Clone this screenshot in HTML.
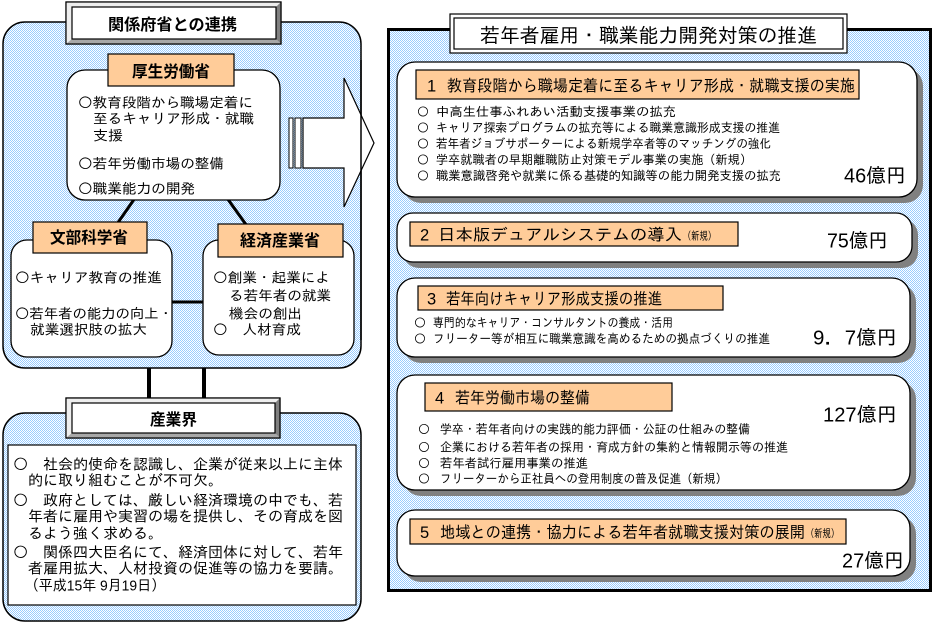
<!DOCTYPE html>
<html><head><meta charset="utf-8">
<style>
html,body{margin:0;padding:0;background:#fff;}
svg{display:block;}
.r{font-family:"Liberation Sans","IPAGothic","Noto Sans CJK JP",sans-serif;fill:#000;}
.b{font-family:"Liberation Sans","Noto Sans CJK JP",sans-serif;font-weight:bold;fill:#000;}
.c{font-family:"IPAGothic","Noto Sans CJK JP",sans-serif;}
</style></head>
<body>
<svg width="936" height="625" viewBox="0 0 936 625" xmlns="http://www.w3.org/2000/svg">
<defs>
<pattern id="bl" patternUnits="userSpaceOnUse" width="2" height="2">
<rect width="2" height="2" fill="#fff"/>
<rect x="0" y="0" width="1" height="1" fill="#99CCFF"/>
<rect x="1" y="1" width="1" height="1" fill="#99CCFF"/>
</pattern>
</defs>

<!-- ===== LEFT TOP PANEL ===== -->
<rect x="3" y="22" width="358" height="346" rx="22" fill="url(#bl)" stroke="#000" stroke-width="1.5"/>

<!-- connector lines -->
<line x1="135" y1="198" x2="117" y2="224" stroke="#000" stroke-width="3"/>
<line x1="227" y1="198" x2="247" y2="226" stroke="#000" stroke-width="3"/>
<line x1="171" y1="302" x2="204" y2="302" stroke="#000" stroke-width="3"/>

<!-- 厚生労働省 box -->
<rect x="67" y="70" width="213" height="130" rx="18" fill="#fff" stroke="#000" stroke-width="1.3"/>
<rect x="108" y="54" width="126" height="32" fill="#FFCC99" stroke="#000" stroke-width="1.2"/>
<text class="b" x="132" y="77" font-size="16" textLength="78" lengthAdjust="spacingAndGlyphs">厚生労働省</text>
<text class="r" x="78" y="107.3" font-size="14" textLength="175" lengthAdjust="spacingAndGlyphs"><tspan class="c">○</tspan>教育段階から職場定着に</text>
<text class="r" x="93" y="123.3" font-size="14" textLength="161" lengthAdjust="spacingAndGlyphs">至るキャリア形成・就職</text>
<text class="r" x="93" y="140.3" font-size="14" textLength="30" lengthAdjust="spacingAndGlyphs">支援</text>
<text class="r" x="78" y="168.3" font-size="14" textLength="146" lengthAdjust="spacingAndGlyphs"><tspan class="c">○</tspan>若年労働市場の整備</text>
<text class="r" x="78" y="193.3" font-size="14" textLength="117" lengthAdjust="spacingAndGlyphs"><tspan class="c">○</tspan>職業能力の開発</text>

<!-- 文部科学省 box -->
<rect x="11" y="240" width="161" height="117" rx="16" fill="#fff" stroke="#000" stroke-width="1.3"/>
<rect x="33" y="222" width="114" height="31" fill="#FFCC99" stroke="#000" stroke-width="1.2"/>
<text class="b" x="50" y="243" font-size="16" textLength="78" lengthAdjust="spacingAndGlyphs">文部科学省</text>
<text class="r" x="15" y="282.3" font-size="14" textLength="147" lengthAdjust="spacingAndGlyphs"><tspan class="c">○</tspan>キャリア教育の推進</text>
<text class="r" x="15" y="318.3" font-size="14" textLength="158" lengthAdjust="spacingAndGlyphs"><tspan class="c">○</tspan>若年者の能力の向上・</text>
<text class="r" x="30" y="334.3" font-size="14" textLength="117" lengthAdjust="spacingAndGlyphs">就業選択肢の拡大</text>

<!-- 経済産業省 box -->
<rect x="203" y="240" width="151" height="115" rx="16" fill="#fff" stroke="#000" stroke-width="1.3"/>
<rect x="218" y="224" width="125" height="33" fill="#FFCC99" stroke="#000" stroke-width="1.2"/>
<text class="b" x="240" y="246" font-size="16" textLength="80" lengthAdjust="spacingAndGlyphs">経済産業省</text>
<text class="r" x="213" y="282.3" font-size="14" textLength="117" lengthAdjust="spacingAndGlyphs"><tspan class="c">○</tspan>創業・起業によ</text>
<text class="r" x="229" y="300.3" font-size="14" textLength="102" lengthAdjust="spacingAndGlyphs">る若年者の就業</text>
<text class="r" x="229" y="318.3" font-size="14" textLength="73" lengthAdjust="spacingAndGlyphs">機会の創出</text>
<text class="r" x="213" y="334.3" font-size="14" textLength="88" lengthAdjust="spacingAndGlyphs"><tspan class="c">○</tspan>　人材育成</text>

<!-- Arrow -->
<rect x="289" y="118" width="4" height="50" fill="#fff" stroke="#000" stroke-width="1"/>
<rect x="295" y="118" width="6" height="50" fill="#fff" stroke="#000" stroke-width="1"/>
<polygon points="303,118 344,118 344,78 374,143 344,207 344,168 303,168" fill="#fff" stroke="#000" stroke-width="1.2"/>
<line x1="361" y1="60" x2="361" y2="340" stroke="#000" stroke-width="1.5"/>

<!-- Title box left -->
<rect x="66" y="2" width="215" height="42" fill="#c8c8c8" stroke="#000" stroke-width="1.2"/>
<polygon points="66,2 281,2 276,7 72,7" fill="#eeeeee"/>
<polygon points="66,2 72,7 72,39 66,44" fill="#eeeeee"/>
<polygon points="281,2 281,44 276,39 276,7" fill="#808080"/>
<polygon points="66,44 281,44 276,39 72,39" fill="#a8a8a8"/>
<rect x="66" y="2" width="215" height="42" fill="none" stroke="#000" stroke-width="1.2"/>
<rect x="72" y="7" width="204" height="32" fill="#fff" stroke="#000" stroke-width="1.2"/>
<text class="b" x="108" y="30" font-size="16" textLength="129" lengthAdjust="spacingAndGlyphs">関係府省との連携</text>

<!-- vertical connectors -->
<rect x="147" y="368" width="4" height="32" fill="#000"/>
<rect x="202" y="368" width="4" height="32" fill="#000"/>

<!-- ===== LEFT BOTTOM PANEL ===== -->
<rect x="3" y="413" width="358" height="208" rx="22" fill="url(#bl)" stroke="#000" stroke-width="1.5"/>
<rect x="8" y="445" width="348" height="160" fill="#fff" stroke="#000" stroke-width="1.2"/>
<rect x="66" y="398" width="214" height="40" fill="#c8c8c8" stroke="#000" stroke-width="1.2"/>
<polygon points="66,398 280,398 275,403 72,403" fill="#eeeeee"/>
<polygon points="66,398 72,403 72,433 66,438" fill="#eeeeee"/>
<polygon points="280,398 280,438 275,433 275,403" fill="#808080"/>
<polygon points="66,438 280,438 275,433 72,433" fill="#a8a8a8"/>
<rect x="66" y="398" width="214" height="40" fill="none" stroke="#000" stroke-width="1.2"/>
<rect x="72" y="403" width="203" height="30" fill="#fff" stroke="#000" stroke-width="1.2"/>
<text class="b" x="150" y="425" font-size="16" textLength="47" lengthAdjust="spacingAndGlyphs">産業界</text>

<text class="r" x="13" y="469.7" font-size="15" textLength="330" lengthAdjust="spacingAndGlyphs"><tspan class="c">○</tspan>　社会的使命を認識し、企業が従来以上に主体</text>
<text class="r" x="28" y="485.7" font-size="15" textLength="195" lengthAdjust="spacingAndGlyphs">的に取り組むことが不可欠。</text>
<text class="r" x="13" y="505.7" font-size="15" textLength="330" lengthAdjust="spacingAndGlyphs"><tspan class="c">○</tspan>　政府としては、厳しい経済環境の中でも、若</text>
<text class="r" x="28" y="521.7" font-size="15" textLength="315" lengthAdjust="spacingAndGlyphs">年者に雇用や実習の場を提供し、その育成を図</text>
<text class="r" x="28" y="538.7" font-size="15" textLength="135" lengthAdjust="spacingAndGlyphs">るよう強く求める。</text>
<text class="r" x="13" y="557.7" font-size="15" textLength="330" lengthAdjust="spacingAndGlyphs"><tspan class="c">○</tspan>　関係四大臣名にて、経済団体に対して、若年</text>
<text class="r" x="28" y="573.7" font-size="15" textLength="315" lengthAdjust="spacingAndGlyphs">者雇用拡大、人材投資の促進等の協力を要請。</text>
<text class="r" x="25" y="590.7" font-size="15" textLength="140" lengthAdjust="spacingAndGlyphs">（平成15年 9月19日）</text>

<!-- ===== RIGHT PANEL ===== -->
<rect x="388.5" y="29.5" width="542" height="561" fill="url(#bl)" stroke="#000" stroke-width="3"/>

<!-- title -->
<rect x="450" y="14" width="397" height="39" fill="#fff" stroke="#000" stroke-width="1.2"/>
<rect x="454" y="18" width="389" height="31" fill="#fff" stroke="#000" stroke-width="1.2"/>
<text class="r" x="480" y="42.6" font-size="20" textLength="337" lengthAdjust="spacingAndGlyphs">若年者雇用・職業能力開発対策の推進</text>

<!-- section 1 -->
<rect x="403" y="68" width="520" height="135" rx="18" fill="#808080"/>
<rect x="397" y="62" width="520" height="135" rx="18" fill="#fff" stroke="#000" stroke-width="1.3"/>
<rect x="416" y="70" width="443" height="29" fill="#FFCC99" stroke="#000" stroke-width="1.2"/>
<text class="r" x="427" y="91.3" font-size="16.5">1</text>
<text class="r" x="447" y="91.3" font-size="16.5" textLength="408" lengthAdjust="spacingAndGlyphs">教育段階から職場定着に至るキャリア形成・就職支援の実施</text>
<text class="r c" x="417" y="115.8" font-size="12">○</text>
<text class="r" x="436" y="115.8" font-size="12.5" textLength="240" lengthAdjust="spacingAndGlyphs">中高生仕事ふれあい活動支援事業の拡充</text>
<text class="r c" x="417" y="131.8" font-size="12">○</text>
<text class="r" x="436" y="131.8" font-size="12.5" textLength="344" lengthAdjust="spacingAndGlyphs">キャリア探索プログラムの拡充等による職業意識形成支援の推進</text>
<text class="r c" x="417" y="147.8" font-size="12">○</text>
<text class="r" x="436" y="147.8" font-size="12.5" textLength="335" lengthAdjust="spacingAndGlyphs">若年者ジョブサポーターによる新規学卒者等のマッチングの強化</text>
<text class="r c" x="417" y="163.8" font-size="12">○</text>
<text class="r" x="436" y="163.8" font-size="12.5" textLength="316" lengthAdjust="spacingAndGlyphs">学卒就職者の早期離職防止対策モデル事業の実施（新規）</text>
<text class="r c" x="417" y="179.8" font-size="12">○</text>
<text class="r" x="436" y="179.8" font-size="12.5" textLength="345" lengthAdjust="spacingAndGlyphs">職業意識啓発や就業に係る基礎的知識等の能力開発支援の拡充</text>
<text class="r" x="844" y="182.6" font-size="20" textLength="62" lengthAdjust="spacingAndGlyphs">46億円</text>

<!-- section 2 -->
<rect x="403" y="219" width="515" height="49" rx="16" fill="#808080"/>
<rect x="397" y="213" width="515" height="49" rx="16" fill="#fff" stroke="#000" stroke-width="1.3"/>
<rect x="410" y="222" width="328" height="24" fill="#FFCC99" stroke="#000" stroke-width="1.2"/>
<text class="r" x="420" y="240.3" font-size="16.5">2</text>
<text class="r" x="438" y="240.3" font-size="16.5" textLength="244" lengthAdjust="spacingAndGlyphs">日本版デュアルシステムの導入</text>
<text class="r" x="683" y="239.5" font-size="11" textLength="33" lengthAdjust="spacingAndGlyphs">（新規）</text>
<text class="r" x="827" y="247.6" font-size="20" textLength="61" lengthAdjust="spacingAndGlyphs">75億円</text>

<!-- section 3 -->
<rect x="403" y="284" width="513" height="79" rx="18" fill="#808080"/>
<rect x="397" y="278" width="513" height="79" rx="18" fill="#fff" stroke="#000" stroke-width="1.3"/>
<rect x="418" y="286" width="305" height="24" fill="#FFCC99" stroke="#000" stroke-width="1.2"/>
<text class="r" x="427" y="304.3" font-size="16.5">3</text>
<text class="r" x="446" y="304.3" font-size="16.5" textLength="216" lengthAdjust="spacingAndGlyphs">若年向けキャリア形成支援の推進</text>
<text class="r c" x="414" y="326.8" font-size="12">○</text>
<text class="r" x="433" y="326.8" font-size="12.5" textLength="240" lengthAdjust="spacingAndGlyphs">専門的なキャリア・コンサルタントの養成・活用</text>
<text class="r c" x="414" y="342.8" font-size="12">○</text>
<text class="r" x="433" y="342.8" font-size="12.5" textLength="337" lengthAdjust="spacingAndGlyphs">フリーター等が相互に職業意識を高めるための拠点づくりの推進</text>
<text class="r" x="813" y="344.6" font-size="20" textLength="84" lengthAdjust="spacingAndGlyphs">9．7億円</text>

<!-- section 4 -->
<rect x="403" y="381" width="513" height="115" rx="18" fill="#808080"/>
<rect x="397" y="375" width="513" height="115" rx="18" fill="#fff" stroke="#000" stroke-width="1.3"/>
<rect x="425" y="383" width="247" height="28" fill="#FFCC99" stroke="#000" stroke-width="1.2"/>
<text class="r" x="435" y="403.3" font-size="16.5">4</text>
<text class="r" x="455" y="403.3" font-size="16.5" textLength="135" lengthAdjust="spacingAndGlyphs">若年労働市場の整備</text>
<text class="r" x="823" y="421.6" font-size="20" textLength="74" lengthAdjust="spacingAndGlyphs">127億円</text>
<text class="r c" x="418" y="433.3" font-size="12">○</text>
<text class="r" x="440" y="433.3" font-size="12.5" textLength="310" lengthAdjust="spacingAndGlyphs">学卒・若年者向けの実践的能力評価・公証の仕組みの整備</text>
<text class="r c" x="418" y="451.3" font-size="12">○</text>
<text class="r" x="440" y="451.3" font-size="12.5" textLength="348" lengthAdjust="spacingAndGlyphs">企業における若年者の採用・育成方針の集約と情報開示等の推進</text>
<text class="r c" x="418" y="467.3" font-size="12">○</text>
<text class="r" x="440" y="467.3" font-size="12.5" textLength="148" lengthAdjust="spacingAndGlyphs">若年者試行雇用事業の推進</text>
<text class="r c" x="418" y="482.8" font-size="12">○</text>
<text class="r" x="440" y="482.8" font-size="12.5" textLength="287" lengthAdjust="spacingAndGlyphs">フリーターから正社員への登用制度の普及促進（新規）</text>

<!-- section 5 -->
<rect x="403" y="516" width="513" height="66" rx="18" fill="#808080"/>
<rect x="397" y="510" width="513" height="66" rx="18" fill="#fff" stroke="#000" stroke-width="1.3"/>
<rect x="410" y="519" width="436" height="25" fill="#FFCC99" stroke="#000" stroke-width="1.2"/>
<text class="r" x="420" y="538" font-size="16.5">5</text>
<text class="r" x="440" y="538" font-size="16.5" textLength="365" lengthAdjust="spacingAndGlyphs">地域との連携・協力による若年者就職支援対策の展開</text>
<text class="r" x="806" y="537" font-size="11" textLength="33" lengthAdjust="spacingAndGlyphs">（新規）</text>
<text class="r" x="842" y="567.6" font-size="20" textLength="62" lengthAdjust="spacingAndGlyphs">27億円</text>
</svg>
</body></html>
